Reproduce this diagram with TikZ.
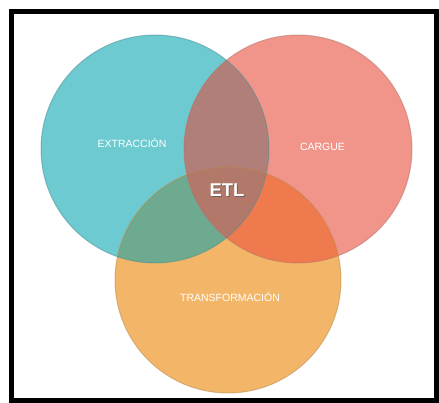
\documentclass[tikz,border=0pt]{standalone}
\usepackage{fontspec}
\setmainfont{Liberation Sans}
\usetikzlibrary{positioning}
\definecolor{cteal}{HTML}{6CCAD0}
\definecolor{csalmon}{HTML}{F1958B}
\definecolor{corange}{HTML}{F3B669}
\definecolor{cts}{HTML}{B07F79}
\definecolor{cto}{HTML}{6DAA90}
\definecolor{cso}{HTML}{EF7A4E}
\definecolor{cetl}{HTML}{B2786A}

\begin{document}
\begin{tikzpicture}[x=1pt, y=-1pt,
  label/.style={text=white, font=\fontsize{10.5}{12}\selectfont, inner sep=0pt}]
\useasboundingbox (0,0) rectangle (439,403);
\coordinate (ext) at (155,149);
\coordinate (car) at (298,149);
\coordinate (tra) at (228,280);
% base circles
\fill[cteal] (ext) circle (114);
\fill[csalmon] (car) circle (114);
\fill[corange] (tra) circle (113);
% pairwise overlaps
\begin{scope}
  \clip (ext) circle (114);
  \fill[cts] (car) circle (114);
  \fill[cto] (tra) circle (113);
\end{scope}
\begin{scope}
  \clip (car) circle (114);
  \fill[cso] (tra) circle (113);
\end{scope}
% centre
\begin{scope}
  \clip (ext) circle (114);
  \clip (car) circle (114);
  \fill[cetl] (tra) circle (113);
\end{scope}
% edges
\draw[cteal!70!black, opacity=.5, line width=1] (ext) circle (114);
\draw[csalmon!75!black, opacity=.5, line width=1] (car) circle (114);
\draw[corange!75!black, opacity=.5, line width=1] (tra) circle (113);
% labels
\node[label] (extT) at (132,143) {EXTRACCIÓN};
\node[label] (carT) at (322.5,147) {CARGUE};
\node[label] (traT) at (230,297) {TRANSFORMACIÓN};
\node[text=black!70, opacity=.6, font=\bfseries\fontsize{18.5}{20}\selectfont] at (228,191) {ETL};
\node[text=white, font=\bfseries\fontsize{18.5}{20}\selectfont] (etl) at (227,190) {ETL};
% frame
\draw[line width=5] (11,12) rectangle (436.5,400.5);
\end{tikzpicture}
\end{document}
